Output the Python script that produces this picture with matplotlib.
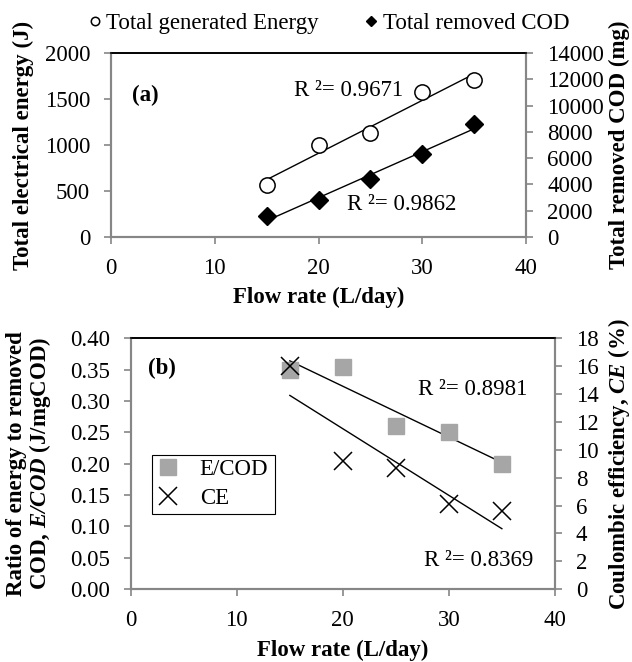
# Flow rate plots: (a) energy / removed COD, (b) E/COD and CE
import numpy as np
import matplotlib.pyplot as plt

plt.rcParams['font.family'] = 'Liberation Serif'
plt.rcParams['mathtext.fontset'] = 'custom'
plt.rcParams['mathtext.bfit'] = 'Liberation Serif:bold:italic'
plt.rcParams['font.size'] = 16.5

# data
flow = np.array([15, 20, 25, 30, 35])
energy = np.array([560, 1005, 1135, 1580, 1710])
cod = np.array([1600, 2800, 4400, 6300, 8600])
e_cod = np.array([0.350, 0.355, 0.260, 0.250, 0.200])
ce = np.array([16.0, 9.2, 8.7, 6.1, 5.6])

r2_energy = "R ²= 0.9671"
r2_cod = "R ²= 0.9862"
r2_ecod = "R ²= 0.8981"
r2_ce = "R ²= 0.8369"

spine_grey = '#868686'
fs = 16.5


def style(ax):
    for s in ['left', 'right', 'bottom']:
        ax.spines[s].set_color(spine_grey)
        ax.spines[s].set_linewidth(1.5)
    ax.spines['top'].set_color('black')
    ax.spines['top'].set_linewidth(1.2)
    ax.tick_params(direction='out', length=5, width=1.2, color=spine_grey,
                   labelsize=fs, pad=10)


def trend(ax, x, y):
    k, b = np.polyfit(x, y, 1)
    ax.plot([x.min(), x.max()], [k * x.min() + b, k * x.max() + b], color='black', lw=1)


fig = plt.figure(figsize=(6.32, 6.62), dpi=100)

# ---- panel (a)
ax1 = fig.add_axes([0.1756, 0.642, 0.657, 0.278])
ax1r = ax1.twinx()
h1, = ax1.plot(flow, energy, 'o', mfc='white', mec='black', ms=11, mew=1.1,
               label='Total generated Energy', zorder=3)
trend(ax1, flow, energy)
h2, = ax1r.plot(flow, cod, 'D', color='black', ms=9.5, label='Total removed COD', zorder=3)
trend(ax1r, flow, cod)
ax1.set_xlim(0, 40)
ax1.set_ylim(0, 2000)
ax1.set_yticks([0, 500, 1000, 1500, 2000])
ax1r.set_ylim(0, 14000)
ax1r.set_yticks(np.arange(0, 14001, 2000))
ax1.set_xticks([0, 10, 20, 30, 40])
style(ax1)
style(ax1r)
ax1.set_xlabel('Flow rate (L/day)', fontweight='bold', labelpad=6)
ax1.set_ylabel('Total electrical energy (J)', fontweight='bold')
ax1.yaxis.set_label_coords(-0.186, 0.5)
ax1r.set_ylabel('Total removed COD (mg)', fontweight='bold')
ax1r.yaxis.set_label_coords(1.2, 0.5)
ax1.text(2.0, 1534, '(a)', fontweight='bold', va='center', ha='left')
ax1.text(28.1, 1595, r2_energy, ha='right', va='center')
ax1.text(33.3, 358, r2_cod, ha='right', va='center')
fig.legend(handles=[h1, h2], loc='center', bbox_to_anchor=(0.52, 0.965), ncol=2,
           frameon=False, markerscale=0.55, handlelength=0.6, handletextpad=0.2,
           columnspacing=2.0, fontsize=fs)

# ---- panel (b)
ax2 = fig.add_axes([0.207, 0.110, 0.671, 0.379])
ax2r = ax2.twinx()
h3, = ax2.plot(flow, e_cod, 's', color='#a6a6a6', ms=11.5, label='E/COD', zorder=3)
trend(ax2, flow, e_cod)
h4, = ax2r.plot(flow, ce, 'x', color='black', ms=13, mew=1.1, label='CE', zorder=3)
trend(ax2r, flow, ce)
ax2.set_xlim(0, 40)
ax2.set_ylim(0, 0.40)
ax2.set_yticks(np.arange(0, 0.401, 0.05))
ax2.yaxis.set_major_formatter(plt.FormatStrFormatter('%.2f'))
ax2r.set_ylim(0, 18)
ax2r.set_yticks(np.arange(0, 19, 2))
ax2.set_xticks([0, 10, 20, 30, 40])
style(ax2)
style(ax2r)
ax2.set_xlabel('Flow rate (L/day)', fontweight='bold', labelpad=6)
ax2.set_ylabel('Ratio of energy to removed\nCOD, $\\mathbfit{E/COD}$ (J/mgCOD)',
               fontweight='bold', linespacing=1.0)
ax2.yaxis.set_label_coords(-0.184, 0.5)
ax2r.set_ylabel('Coulombic efficiency, $\\mathbfit{CE}$ (%)', fontweight='bold')
ax2r.yaxis.set_label_coords(1.12, 0.5)
ax2.text(1.6, 0.352, '(b)', fontweight='bold', va='center', ha='left')
ax2.text(37.4, 0.318, r2_ecod, ha='right', va='center')
ax2.text(38.0, 0.045, r2_ce, ha='right', va='center')
leg = ax2.legend(handles=[h3, h4], loc='upper left', bbox_to_anchor=(0.049, 0.30, 0.292, 0.236),
                 mode='expand', borderaxespad=0, fancybox=False, edgecolor='black',
                 framealpha=1, handlelength=1.0, handletextpad=0.9, borderpad=0.2,
                 labelspacing=0.35, fontsize=fs)
leg.get_frame().set_linewidth(0.8)

fig.savefig('out.png', dpi=100)
